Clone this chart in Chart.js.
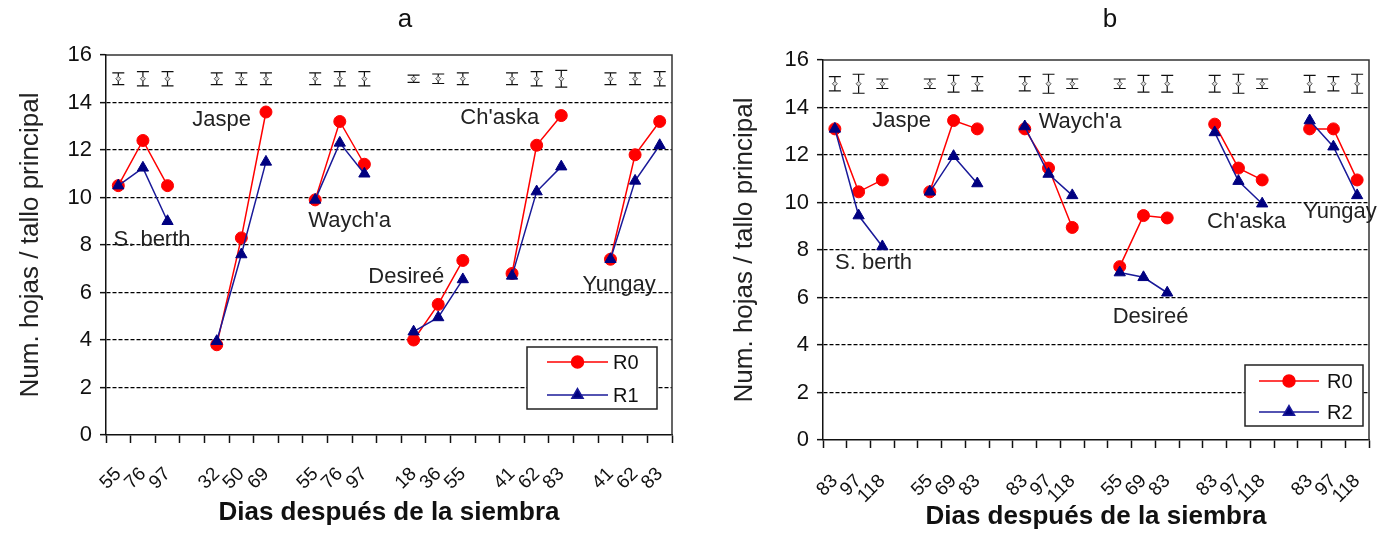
<!DOCTYPE html>
<html>
<head>
<meta charset="utf-8">
<script src="https://cdn.jsdelivr.net/npm/chart.js@4.4.0/dist/chart.umd.min.js"></script>
<style>
  html, body { margin: 0; padding: 0; background: #fff; }
  canvas { position: absolute; top: 0; }
  #chartA { left: 0; }
  #chartB { left: 700px; }
</style>
</head>
<body>
<canvas id="chartA" width="695" height="533"></canvas>
<canvas id="chartB" width="691" height="533"></canvas>
<script>
// ---- data: panel a (R0 vs R1) ----
const labelsA = ['55','76','97','', '32','50','69','', '55','76','97','', '18','36','55','', '41','62','83','', '41','62','83'];
const r0A = [10.5,12.4,10.5,null, 3.8,8.3,13.6,null, 9.9,13.2,11.4,null, 4.0,5.5,7.35,null, 6.8,12.2,13.45,null, 7.4,11.8,13.2];
const r1A = [10.5,11.25,9.0,null, 3.95,7.6,11.5,null, 9.9,12.3,11.0,null, 4.35,4.95,6.55,null, 6.7,10.25,11.3,null, 7.4,10.7,12.2];
const errMidA = [15,15,15,null, 15,15,15,null, 15,15,15,null, 15,15,15,null, 15,15,15,null, 15,15,15];
const errA = [0.25,0.3,0.3,null, 0.25,0.25,0.25,null, 0.25,0.3,0.3,null, 0.15,0.2,0.25,null, 0.25,0.3,0.35,null, 0.25,0.25,0.3];

// ---- data: panel b (R0 vs R2) ----
const labelsB = ['83','97','118','', '55','69','83','', '83','97','118','', '55','69','83','', '83','97','118','', '83','97','118'];
const r0B = [13.1,10.45,10.95,null, 10.45,13.45,13.1,null, 13.1,11.45,8.95,null, 7.3,9.45,9.35,null, 13.3,11.45,10.95,null, 13.1,13.1,10.95];
const r2B = [13.1,9.45,8.15,null, 10.45,11.95,10.8,null, 13.2,11.2,10.3,null, 7.05,6.85,6.2,null, 12.95,10.9,9.95,null, 13.45,12.35,10.3];
const errMidB = [15,15,15,null, 15,15,15,null, 15,15,15,null, 15,15,15,null, 15,15,15,null, 15,15,15];
const errB = [0.3,0.4,0.2,null, 0.2,0.35,0.3,null, 0.3,0.4,0.2,null, 0.2,0.35,0.35,null, 0.35,0.4,0.2,null, 0.35,0.3,0.4];

const cultivars = ['S. berth', 'Jaspe', "Waych'a", 'Desireé', "Ch'aska", 'Yungay'];
// where each cultivar name sits: [category index, y value]
const namePosA = [[1.37, 8.2], [4.2, 13.25], [9.4, 9.0], [11.7, 6.65], [15.5, 13.35], [20.35, 6.3]];
const namePosB = [[1.63, 7.45], [2.81, 13.45], [10.33, 13.4], [13.3, 5.18], [17.34, 9.18], [21.28, 9.6]];

const FONT = "'Liberation Sans', Arial, sans-serif";
Chart.defaults.font.family = FONT;
Chart.defaults.color = '#111';

// error bars at the top of each panel
const errorBars = {
    id: 'errorBars',
    beforeDatasetsDraw(chart, args, opts) {
        const { ctx, scales: { x, y } } = chart;
        ctx.save();
        ctx.strokeStyle = '#111';
        ctx.lineWidth = 1.2;
        opts.err.forEach((e, i) => {
            if (e == null) return;
            const px = x.getPixelForValue(i);
            const top = y.getPixelForValue(opts.mid[i] + e);
            const bot = y.getPixelForValue(opts.mid[i] - e);
            ctx.beginPath();
            ctx.moveTo(px, top); ctx.lineTo(px, bot);
            ctx.moveTo(px - 6, top); ctx.lineTo(px + 6, top);
            ctx.moveTo(px - 6, bot); ctx.lineTo(px + 6, bot);
            ctx.stroke();
        });
        ctx.restore();
    }
};

// top and right frame of the plot area
const frame = {
    id: 'frame',
    afterDatasetsDraw(chart) {
        const { ctx, chartArea: ca } = chart;
        ctx.save();
        ctx.strokeStyle = '#333';
        ctx.lineWidth = 1.5;
        ctx.beginPath();
        ctx.moveTo(ca.left, ca.top);
        ctx.lineTo(ca.right, ca.top);
        ctx.lineTo(ca.right, ca.bottom);
        ctx.stroke();
        ctx.restore();
    }
};

// cultivar names placed in data coordinates
const names = {
    id: 'names',
    afterDatasetsDraw(chart, args, opts) {
        const { ctx, scales: { x, y } } = chart;
        ctx.save();
        ctx.font = '22px ' + FONT;
        ctx.fillStyle = '#222';
        ctx.textAlign = 'center';
        ctx.textBaseline = 'middle';
        opts.pos.forEach((p, k) => {
            ctx.fillText(cultivars[k], x.getPixelForValue(p[0]), y.getPixelForValue(p[1]));
        });
        ctx.restore();
    }
};

// boxed legend inside the lower right corner
const boxLegend = {
    id: 'boxLegend',
    afterDraw(chart, args, o) {
        const { ctx, chartArea: ca } = chart;
        const x0 = ca.right - o.right - o.width;
        const y0 = ca.bottom - o.bottom - o.height;
        ctx.save();
        ctx.fillStyle = '#fff';
        ctx.fillRect(x0, y0, o.width, o.height);
        ctx.strokeStyle = '#222';
        ctx.lineWidth = 1.5;
        ctx.strokeRect(x0, y0, o.width, o.height);
        chart.data.datasets.slice(0, 2).forEach((ds, k) => {
            const cy = y0 + o.rows[k];
            const lx = x0 + o.lineStart;
            ctx.strokeStyle = ds.borderColor;
            ctx.lineWidth = 1.5;
            ctx.beginPath();
            ctx.moveTo(lx, cy); ctx.lineTo(lx + o.lineLen, cy);
            ctx.stroke();
            ctx.fillStyle = ds.backgroundColor;
            Chart.helpers.drawPoint(ctx, { pointStyle: ds.pointStyle, radius: ds.pointRadius, rotation: 0, borderWidth: 1 }, lx + o.lineLen / 2, cy);
            ctx.fillStyle = '#111';
            ctx.font = '20px ' + FONT;
            ctx.textAlign = 'left';
            ctx.textBaseline = 'middle';
            ctx.fillText(ds.label, x0 + o.textStart, cy + 1);
        });
        ctx.restore();
    }
};

// panel letter
const panelTitle = {
    id: 'panelTitle',
    afterDraw(chart, args, o) {
        const { ctx } = chart;
        ctx.save();
        ctx.font = '26px ' + FONT;
        ctx.fillStyle = '#111';
        ctx.textAlign = 'center';
        ctx.textBaseline = 'middle';
        ctx.fillText(o.text, o.x, o.y);
        ctx.restore();
    }
};

function makeChart(id, labels, s0, s1, name1, errMid, err, namePos, lay) {
    return new Chart(document.getElementById(id), {
        type: 'line',
        data: {
            labels: labels,
            datasets: [
                {
                    label: 'R0',
                    data: s0,
                    borderColor: '#ff0000',
                    backgroundColor: '#ff0000',
                    borderWidth: 1.5,
                    pointStyle: 'circle',
                    pointRadius: 6,
                    pointBorderWidth: 1,
                    spanGaps: false,
                    order: 2
                },
                {
                    label: name1,
                    data: s1,
                    borderColor: '#1a1a99',
                    backgroundColor: '#000080',
                    pointBorderColor: '#000080',
                    borderWidth: 1.5,
                    pointStyle: 'triangle',
                    pointRadius: 6.5,
                    pointBorderWidth: 1,
                    spanGaps: false,
                    order: 1
                },
                {
                    label: 'mid',
                    data: errMid,
                    showLine: false,
                    pointStyle: 'rectRot',
                    pointRadius: 2.5,
                    borderColor: '#555',
                    backgroundColor: '#ddd',
                    pointBorderWidth: 1,
                    order: 0
                }
            ]
        },
        options: {
            responsive: false,
            animation: false,
            layout: { padding: { left: 0, right: lay.padRight, top: lay.padTop, bottom: 0 } },
            plugins: {
                legend: { display: false },
                tooltip: { enabled: false },
                errorBars: { err: err, mid: errMid },
                names: { pos: namePos },
                boxLegend: lay.legend,
                panelTitle: lay.title
            },
            scales: {
                x: {
                    type: 'category',
                    offset: true,
                    grid: {
                        offset: true,
                        drawOnChartArea: false,
                        drawTicks: true,
                        tickLength: 8,
                        tickColor: '#111',
                        tickWidth: 1.5
                    },
                    border: { display: true, color: '#111', width: 1.5 },
                    ticks: {
                        autoSkip: false,
                        maxRotation: 45,
                        minRotation: 45,
                        padding: lay.xTickPad,
                        color: '#111',
                        font: { size: 19 }
                    },
                    title: {
                        display: true,
                        text: 'Dias después de la siembra',
                        color: '#111',
                        font: { size: 26, weight: 'bold' },
                        padding: { top: 0, bottom: lay.xTitlePad }
                    },
                    afterFit(scale) {
                        scale.height = lay.xHeight;
                        scale.paddingLeft = 0;
                        scale.paddingRight = 0;
                    }
                },
                y: {
                    min: 0,
                    max: 16,
                    ticks: {
                        stepSize: 2,
                        padding: 8,
                        color: '#111',
                        font: { size: 22 }
                    },
                    grid: {
                        color: (c) => (c.tick && (c.tick.value === 0 || c.tick.value === 16)) ? 'rgba(0,0,0,0)' : '#000',
                        lineWidth: 1.3,
                        tickLength: 6,
                        tickColor: '#111',
                        tickWidth: 1.5
                    },
                    border: { display: true, color: '#111', width: 1.5, dash: [4, 2] },
                    title: {
                        display: true,
                        text: 'Num. hojas / tallo principal',
                        color: '#222',
                        font: { size: 26 },
                        padding: { top: lay.yTitlePad, bottom: 0 }
                    },
                    afterFit(scale) {
                        scale.width = lay.yWidth;
                        scale.paddingTop = 0;
                        scale.paddingBottom = 0;
                    }
                }
            }
        },
        plugins: [errorBars, frame, names, boxLegend, panelTitle]
    });
}

makeChart('chartA', labelsA, r0A, r1A, 'R1', errMidA, errA, namePosA, {
    padTop: 55, padRight: 23, yWidth: 106, xHeight: 98,
    xTickPad: 20, xTitlePad: 5, yTitlePad: 15,
    legend: { right: 15, bottom: 26, width: 130, height: 62, lineStart: 20, lineLen: 61, textStart: 86, rows: [15, 48] },
    title: { text: 'a', x: 405, y: 20 }
});

makeChart('chartB', labelsB, r0B, r2B, 'R2', errMidB, errB, namePosB, {
    padTop: 60, padRight: 22, yWidth: 123, xHeight: 93,
    xTickPad: 22, xTitlePad: 1, yTitlePad: 29,
    legend: { right: 6, bottom: 14, width: 118, height: 61, lineStart: 14, lineLen: 60, textStart: 82, rows: [16, 47] },
    title: { text: 'b', x: 410, y: 20 }
});
</script>
</body>
</html>
